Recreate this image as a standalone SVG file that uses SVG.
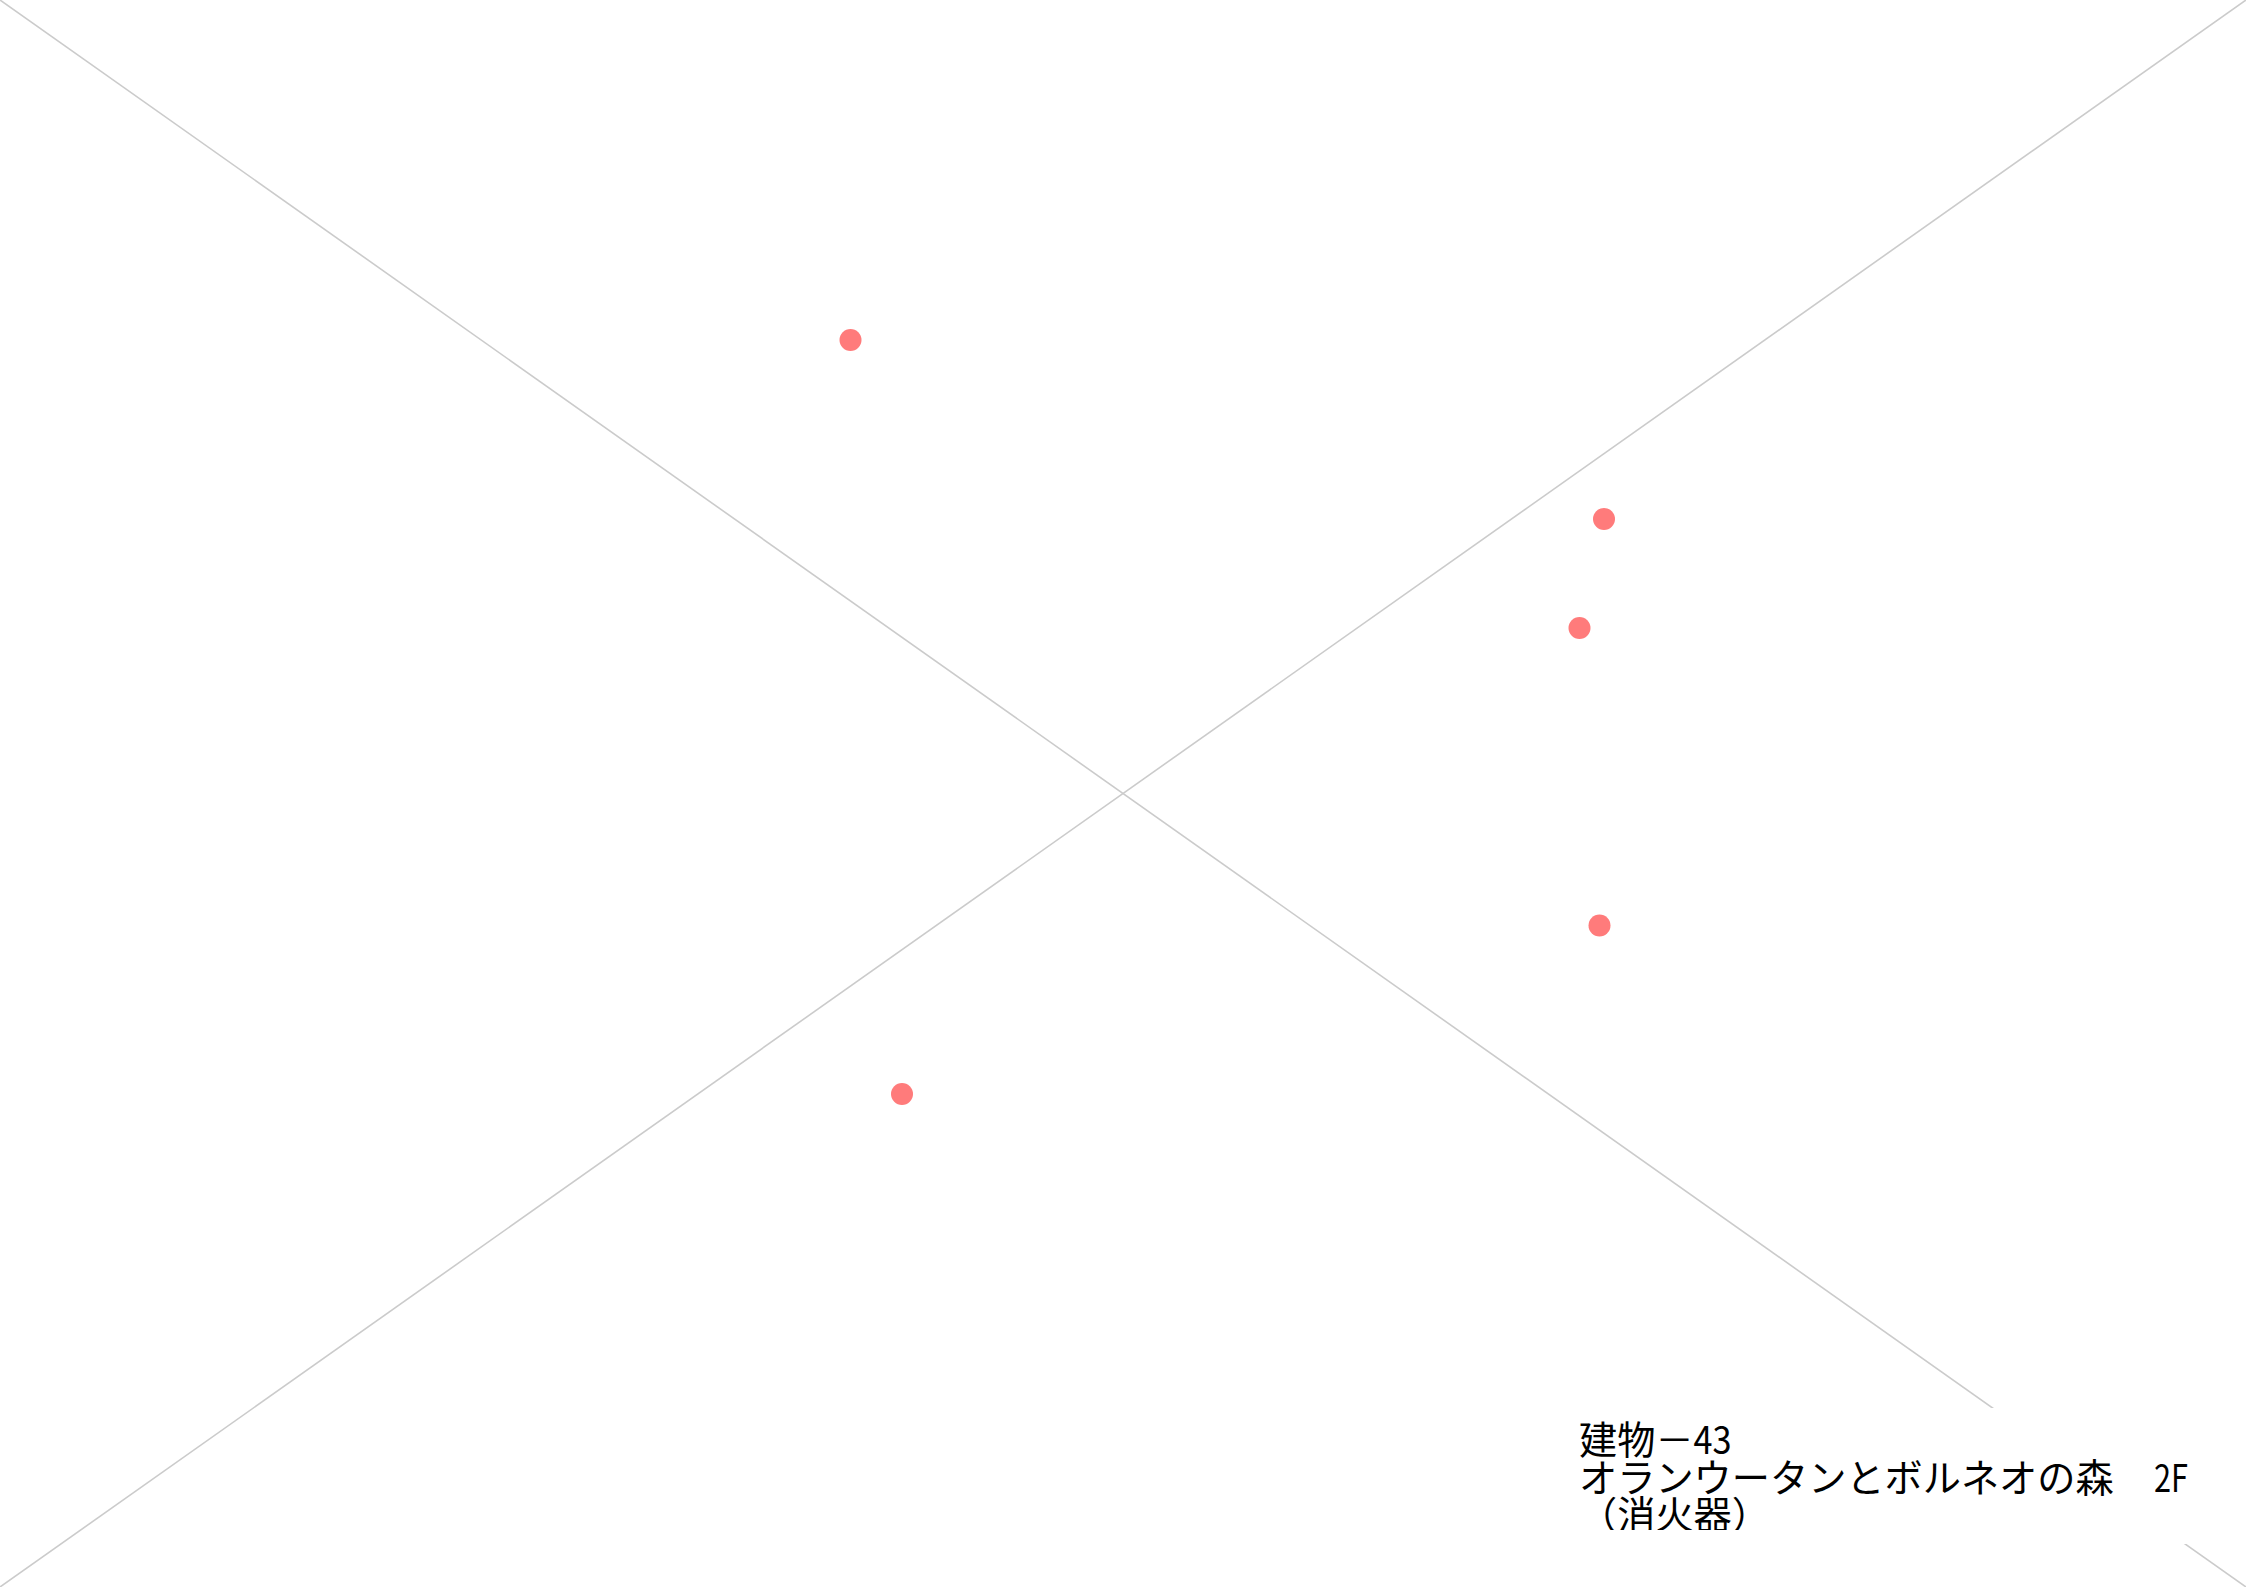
<svg xmlns="http://www.w3.org/2000/svg" width="2246" height="1587" viewBox="0 0 2246 1587">
<style>
.ln{stroke:#cbcbcb;stroke-width:1.6;fill:none}
.dot{fill:#ff7b7b}
.t{font-family:"Noto Sans CJK JP","Noto Sans CJK SC",sans-serif;font-size:38.2px;font-weight:400;fill:#000}
</style>
<defs><clipPath id="tc"><rect x="1570" y="1410" width="660" height="120"/></clipPath></defs>
<rect width="2246" height="1587" fill="#fff"/>
<g id="connectors">
<line class="ln" x1="0" y1="0" x2="2246" y2="1587"/>
<line class="ln" x1="0" y1="1587" x2="2246" y2="0"/>
</g>
<rect id="title-mask" x="1570" y="1408" width="676" height="136" fill="#fff"/>
<g id="dot-1"><circle class="dot" cx="850.5" cy="340" r="11"/></g>
<g id="dot-2"><circle class="dot" cx="1604" cy="519" r="11"/></g>
<g id="dot-3"><circle class="dot" cx="1579.5" cy="628" r="11"/></g>
<g id="dot-4"><circle class="dot" cx="1599.5" cy="925.5" r="11"/></g>
<g id="dot-5"><circle class="dot" cx="902" cy="1094" r="11"/></g>
<g id="title" clip-path="url(#tc)">
<text class="t" x="1579" y="1454">建物－<tspan textLength="38" lengthAdjust="spacingAndGlyphs">43</tspan></text>
<text class="t" x="1579" y="1492" xml:space="preserve">オランウータンとボルネオの森　<tspan x="2154" textLength="34" lengthAdjust="spacingAndGlyphs">2F</tspan></text>
<text class="t" x="1579" y="1529">（消火器）</text>
</g>
</svg>
